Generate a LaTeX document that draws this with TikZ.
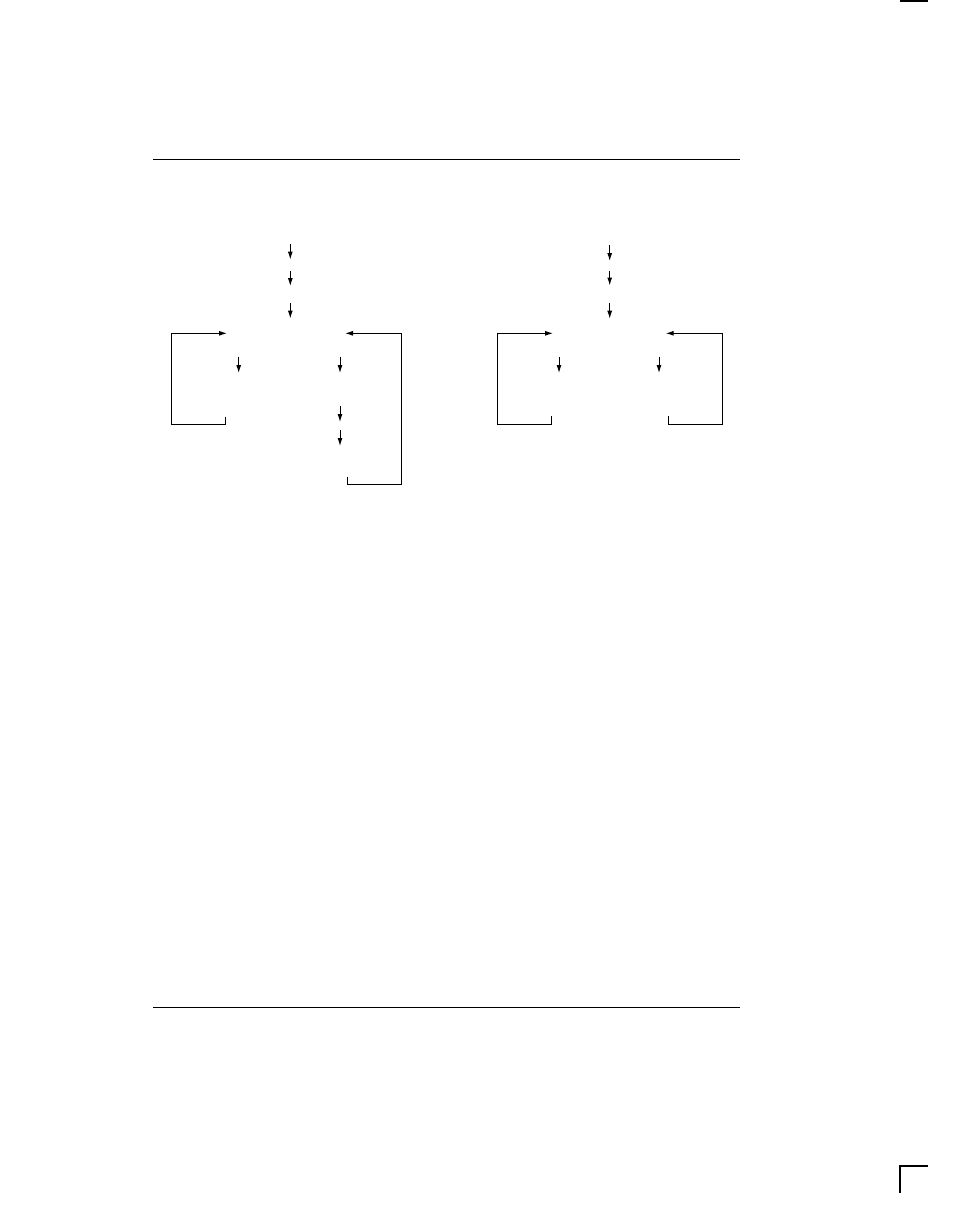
\documentclass[tikz,border=0pt]{standalone}
\usetikzlibrary{arrows.meta}
\begin{document}
\begin{tikzpicture}[x=1pt,y=-1pt,
  ln/.style={line width=1pt,line cap=butt},
  arr/.style={ln,-{Latex[length=8pt,width=5pt]}}]
\useasboundingbox (0,0) rectangle (954,1219);
% page rules and marks
\coordinate (r1a) at (153,159); \coordinate (r1b) at (740,159);
\coordinate (r2a) at (153,1007); \coordinate (r2b) at (740,1007);
\draw[ln] (r1a) -- (r1b);
\draw[ln] (r2a) -- (r2b);
\coordinate (m1a) at (900,0.8); \coordinate (m1b) at (928,0.8);
\draw[line width=1.6pt] (m1a) -- (m1b);
\coordinate (c1) at (900,1166); \coordinate (c1r) at (928,1166); \coordinate (c1d) at (900,1193);
\draw[line width=1.1pt] (c1r) -- (c1) -- (c1d);
% left diagram
\foreach \n/\a/\b in {a/244/259.5, b/271/286, c/303/318.5}{
  \coordinate (La\n) at (290.3,\a); \coordinate (Lb\n) at (290.3,\b);
  \draw[arr] (La\n) -- (Lb\n);}
\coordinate (LL0) at (225.3,416.5); \coordinate (LL1) at (225.3,424.3);
\coordinate (LL2) at (171.3,424.3); \coordinate (LL3) at (171.3,333.3);
\coordinate (LL4) at (227,333.3);
\draw[arr] (LL0) -- (LL1) -- (LL2) -- (LL3) -- (LL4);
\coordinate (LR0) at (347.7,476.5); \coordinate (LR1) at (347.7,484.3);
\coordinate (LR2) at (401.3,484.3); \coordinate (LR3) at (401.3,333.3);
\coordinate (LR4) at (345,333.3);
\draw[arr] (LR0) -- (LR1) -- (LR2) -- (LR3) -- (LR4);
\coordinate (Ls1a) at (238.7,356.5); \coordinate (Ls1b) at (238.7,373);
\draw[arr] (Ls1a) -- (Ls1b);
\coordinate (Ls2a) at (340,356.5); \coordinate (Ls2b) at (340,373);
\draw[arr] (Ls2a) -- (Ls2b);
\coordinate (Ls3a) at (340,406); \coordinate (Ls3b) at (340,422);
\draw[arr] (Ls3a) -- (Ls3b);
\coordinate (Ls4a) at (340,430); \coordinate (Ls4b) at (340,446);
\draw[arr] (Ls4a) -- (Ls4b);
% right diagram
\foreach \n/\a/\b in {a/245/261, b/271/285.5, c/303.3/318.7}{
  \coordinate (Ra\n) at (609.7,\a); \coordinate (Rb\n) at (609.7,\b);
  \draw[arr] (Ra\n) -- (Rb\n);}
\coordinate (RL0) at (551,416); \coordinate (RL1) at (551,424);
\coordinate (RL2) at (497.3,424); \coordinate (RL3) at (497.3,333.3);
\coordinate (RL4) at (553,333.3);
\draw[arr] (RL0) -- (RL1) -- (RL2) -- (RL3) -- (RL4);
\coordinate (RR0) at (668.7,416); \coordinate (RR1) at (668.7,424);
\coordinate (RR2) at (722,424); \coordinate (RR3) at (722,333.3);
\coordinate (RR4) at (665.7,333.3);
\draw[arr] (RR0) -- (RR1) -- (RR2) -- (RR3) -- (RR4);
\coordinate (Rs1a) at (559,356.5); \coordinate (Rs1b) at (559,373);
\draw[arr] (Rs1a) -- (Rs1b);
\coordinate (Rs2a) at (659,356.5); \coordinate (Rs2b) at (659,373);
\draw[arr] (Rs2a) -- (Rs2b);
\end{tikzpicture}
\end{document}
